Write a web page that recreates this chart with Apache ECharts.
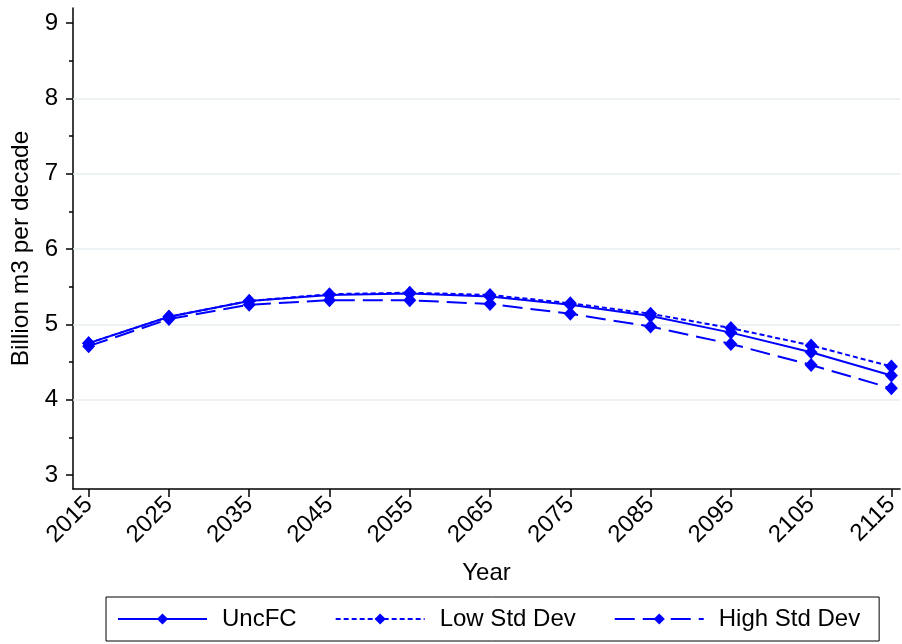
<!DOCTYPE html>
<html>
<head>
<meta charset="utf-8">
<script src="https://cdn.jsdelivr.net/npm/echarts@6/dist/echarts.min.js"></script>
<style>
html,body{margin:0;padding:0;background:#fff;}
#chart{width:902px;height:644px;}
</style>
</head>
<body>
<div id="chart"></div>
<script>
const years = [2015, 2025, 2035, 2045, 2055, 2065, 2075, 2085, 2095, 2105, 2115];
const uncFC  = [4.75, 5.10, 5.31, 5.39, 5.41, 5.37, 5.26, 5.11, 4.89, 4.63, 4.32];
const lowSD  = [4.75, 5.10, 5.31, 5.40, 5.42, 5.39, 5.28, 5.14, 4.95, 4.72, 4.44];
const highSD = [4.71, 5.07, 5.26, 5.32, 5.32, 5.27, 5.14, 4.97, 4.74, 4.46, 4.15];
const seriesNames = ['UncFC', 'Low Std Dev', 'High Std Dev'];
const yTickValues = [3, 4, 5, 6, 7, 8, 9];
const yMinorValues = [3.5, 4.5, 5.5, 6.5, 7.5, 8.5];
const gridValues = [4, 5, 6, 7, 8];

const FONT = "'Liberation Sans', Arial, Helvetica, sans-serif";
const BLUE = '#0000ff';

function pairs(vals) { return years.map((y, i) => [y, vals[i]]); }

const chart = echarts.init(document.getElementById('chart'));

function mkSeries(name, vals, dash, withGrid) {
  const s = {
    name: name,
    type: 'line',
    data: pairs(vals),
    symbol: 'diamond',
    symbolSize: [13, 14],
    itemStyle: { color: BLUE },
    lineStyle: { color: BLUE, width: 2, type: dash },
    z: 3
  };
  if (withGrid) {
    s.markLine = {
      silent: true,
      z: 1,
      symbol: ['none', 'none'],
      label: { show: false },
      lineStyle: { color: '#e6edf1', width: 1.5, type: 'solid' },
      data: gridValues.map(v => ({ yAxis: v }))
    };
  }
  return s;
}

chart.setOption({
  animation: false,
  textStyle: { fontFamily: FONT },
  grid: { left: 73, right: 0, top: 8, bottom: 155, containLabel: false },
  legend: {
    data: seriesNames,
    left: 106,
    top: 597,
    orient: 'horizontal',
    itemWidth: 89,
    itemHeight: 14,
    itemGap: 38,
    padding: [10, 19, 10, 11],
    borderColor: '#000',
    borderWidth: 1,
    textStyle: { fontSize: 24, color: '#000', fontFamily: FONT, padding: [0, 0, 0, 10] }
  },
  xAxis: {
    type: 'value',
    min: 2013.05,
    max: 2116.08,
    name: 'Year',
    nameLocation: 'middle',
    nameGap: 72,
    nameTextStyle: { fontSize: 24, color: '#000', fontFamily: FONT },
    axisLine: { show: true, onZero: false, lineStyle: { color: '#000', width: 1.5 } },
    axisTick: { show: true, length: 8, customValues: years, lineStyle: { color: '#000', width: 1.5 } },
    axisLabel: { show: true, customValues: years, formatter: v => String(v), rotate: 45, fontSize: 24, color: '#000', margin: 12, fontFamily: FONT },
    splitLine: { show: false }
  },
  yAxis: [{
    type: 'value',
    position: 'left',
    min: 2.814,
    max: 9.199,
    name: 'Billion m3 per decade',
    nameLocation: 'middle',
    nameGap: 36,
    nameTextStyle: { fontSize: 24.5, color: '#000', fontFamily: FONT },
    axisLine: { show: true, onZero: false, lineStyle: { color: '#000', width: 1.5 } },
    axisTick: { show: true, length: 7, customValues: yTickValues, lineStyle: { color: '#000', width: 1.5 } },
    axisLabel: { show: true, customValues: yTickValues, formatter: v => String(v), fontSize: 24, color: '#000', margin: 15, fontFamily: FONT },
    splitLine: { show: false }
  }, {
    type: 'value',
    position: 'left',
    offset: 0,
    min: 2.814,
    max: 9.199,
    axisLine: { show: false },
    axisTick: { show: true, length: 4, customValues: yMinorValues, lineStyle: { color: '#000', width: 1.5 } },
    axisLabel: { show: false },
    splitLine: { show: false }
  }],
  series: [
    mkSeries(seriesNames[0], uncFC, 'solid', true),
    mkSeries(seriesNames[1], lowSD, [5, 3], false),
    mkSeries(seriesNames[2], highSD, [20, 8], false)
  ]
});
</script>
</body>
</html>
